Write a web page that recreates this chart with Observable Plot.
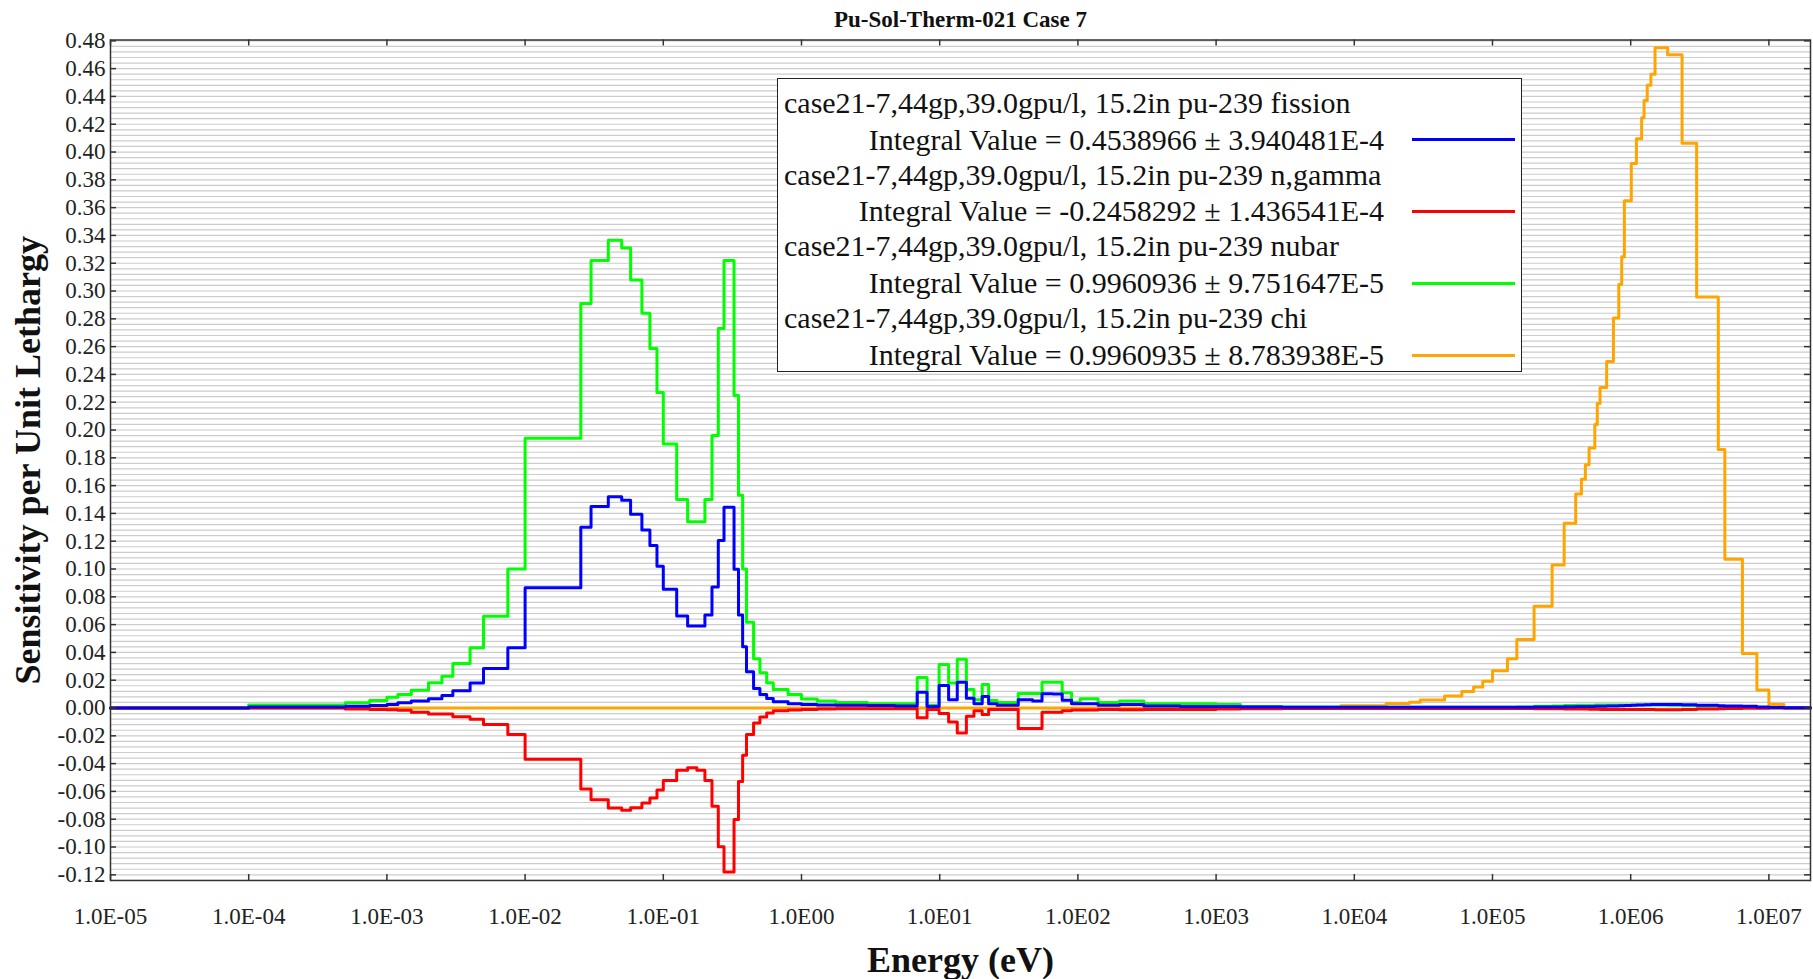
<!DOCTYPE html>
<html>
<head>
<meta charset="utf-8">
<script src="https://cdn.jsdelivr.net/npm/d3@7"></script>
<script src="https://cdn.jsdelivr.net/npm/@observablehq/plot@0.6"></script>
<style>
  html, body { margin: 0; padding: 0; background: #fff; }
  #chart { position: relative; width: 1813px; height: 979px; font-family: "Liberation Serif", "Times New Roman", serif; }
  #chart svg { position: absolute; left: 0; top: 0; }
  .legend-box { position: absolute; left: 777px; top: 78px; width: 745px; height: 294px; border: 1.5px solid #222; background: #fff; box-sizing: border-box; }
  .legend-row { position: absolute; font-size: 30px; line-height: 36px; white-space: nowrap; color: #111; }
  .legend-swatch { position: absolute; height: 3px; }
</style>
</head>
<body>
<div id="chart"></div>
<script>
// Group boundaries (eV), ascending; each series holds one value per group.
const energyEdges = [
  1e-5, 1e-4, 5e-4, 7.5e-4, 1e-3, 1.2e-3, 1.5e-3, 2e-3, 2.5e-3, 3e-3,
  4e-3, 5e-3, 7.5e-3, 0.01, 0.0253, 0.03, 0.04, 0.05, 0.058, 0.07,
  0.08, 0.09, 0.1, 0.125, 0.15, 0.175, 0.2, 0.225, 0.25, 0.275,
  0.325, 0.35, 0.375, 0.4, 0.45, 0.5, 0.56, 0.625, 0.8, 1.0,
  1.3, 1.77, 3.0, 4.75, 6.0, 6.875, 8.1, 9.9, 11.6, 13.4,
  15.6, 17.7, 20.3, 22.6, 26, 30, 37, 47, 55, 66,
  77, 90, 104, 140, 200, 300, 550, 1000, 1500, 3000,
  8000, 1.7e4, 2.5e4, 3e4, 4.5e4, 6e4, 7.3e4, 8.5e4, 1e5, 1.283e5,
  1.5e5, 2e5, 2.7e5, 3.3e5, 4e5, 4.4e5, 4.7e5, 5e5, 5.5e5, 5.73e5,
  6e5, 6.7e5, 7.5e5, 8.2e5, 8.61e5, 9e5, 1.01e6, 1.1e6, 1.2e6, 1.25e6,
  1.317e6, 1.4e6, 1.5e6, 1.85e6, 2.354e6, 3e6, 4.304e6, 4.8e6, 6.434e6, 8.187e6,
  1e7, 1.284e7, 2e7
];

// pu-239 fission sensitivity per unit lethargy
const fissionValues = [
  0, 0.0007, 0.0012, 0.0018, 0.0025, 0.0037, 0.005, 0.0066, 0.009, 0.0125,
  0.018, 0.0285, 0.0434, 0.0865, 0.130, 0.145, 0.152, 0.1495, 0.1394, 0.128,
  0.117, 0.102, 0.0854, 0.0662, 0.059, 0.059, 0.067, 0.087, 0.1206, 0.1445,
  0.0999, 0.067, 0.0441, 0.026, 0.014, 0.0097, 0.0069, 0.0045, 0.0031, 0.0025,
  0.0022, 0.002, 0.0018, 0.0015, 0.0015, 0.0114, 0.001, 0.0162, 0.006, 0.0186,
  0.007, 0.003, 0.0083, 0.003, 0.002, 0.002, 0.006, 0.005, 0.0102, 0.010,
  0.0055, 0.003, 0.003, 0.002, 0.0025, 0.0015, 0.001, 0.001, 0.0008, 0.0006,
  0.0005, 0.0005, 0.0005, 0.0005, 0.0005, 0.0005, 0.0005, 0.0005, 0.0005, 0.0005,
  0.0006, 0.0007, 0.0008, 0.0009, 0.001, 0.001, 0.001, 0.001, 0.0012, 0.0012,
  0.0013, 0.0014, 0.0015, 0.0016, 0.0017, 0.0018, 0.002, 0.0021, 0.0022, 0.0023,
  0.0024, 0.0025, 0.0026, 0.0026, 0.0024, 0.002, 0.0017, 0.0015, 0.0012, 0.0008,
  0.0004, 0.0002
];

// pu-239 n,gamma sensitivity per unit lethargy
const captureValues = [
  0, 0, -0.0008, -0.001, -0.0012, -0.0017, -0.003, -0.0043, -0.0043, -0.0062,
  -0.0081, -0.0119, -0.019, -0.0369, -0.0583, -0.066, -0.072, -0.0736, -0.0717, -0.0683,
  -0.0648, -0.059, -0.0521, -0.0448, -0.0429, -0.0448, -0.0521, -0.0707, -0.0998, -0.118,
  -0.0802, -0.0529, -0.034, -0.019, -0.0107, -0.0064, -0.0036, -0.002, -0.0015, -0.001,
  -0.0008, -0.0006, -0.0005, -0.0005, -0.0005, -0.007, -0.001, -0.004, -0.010, -0.018,
  -0.006, -0.002, -0.0047, -0.001, -0.001, -0.001, -0.0147, -0.0147, -0.003, -0.003,
  -0.002, -0.0015, -0.0015, -0.001, -0.0012, -0.001, -0.001, -0.0008, -0.0005, -0.0004,
  -0.0003, -0.0003, -0.0003, -0.0003, -0.0003, -0.0003, -0.0003, -0.0003, -0.0003, -0.0003,
  -0.0004, -0.0005, -0.0006, -0.0007, -0.0008, -0.0008, -0.0008, -0.0009, -0.0009, -0.0009,
  -0.001, -0.001, -0.001, -0.001, -0.001, -0.001, -0.001, -0.001, -0.001, -0.001,
  -0.001, -0.001, -0.0012, -0.0012, -0.001, -0.0008, -0.0006, -0.0004, -0.0002, -0.0001,
  0, 0
];

// pu-239 nubar sensitivity per unit lethargy
const nubarValues = [
  0, 0.0022, 0.0037, 0.0054, 0.0078, 0.0097, 0.0128, 0.0181, 0.0229, 0.032,
  0.0433, 0.066, 0.100, 0.194, 0.291, 0.322, 0.3366, 0.331, 0.308, 0.284,
  0.2586, 0.227, 0.190, 0.150, 0.134, 0.134, 0.150, 0.196, 0.273, 0.322,
  0.2248, 0.153, 0.100, 0.0617, 0.0354, 0.0253, 0.0181, 0.0133, 0.0097, 0.0065,
  0.005, 0.004, 0.003, 0.003, 0.003, 0.022, 0.002, 0.0313, 0.018, 0.035,
  0.0133, 0.006, 0.0169, 0.0054, 0.004, 0.004, 0.0104, 0.0104, 0.0186, 0.0186,
  0.011, 0.004, 0.0066, 0.004, 0.005, 0.003, 0.003, 0.0025, 0.001, 0.0008,
  0.0006, 0.0006, 0.0006, 0.0006, 0.0006, 0.0006, 0.0006, 0.0006, 0.0006, 0.0006,
  0.0008, 0.0012, 0.0015, 0.0018, 0.002, 0.002, 0.002, 0.002, 0.0021, 0.0021,
  0.0022, 0.0022, 0.0022, 0.0022, 0.0022, 0.0022, 0.0022, 0.0022, 0.0022, 0.0022,
  0.0022, 0.0022, 0.0022, 0.002, 0.0018, 0.0015, 0.001, 0.0008, 0.0005, 0.0002,
  0.0001, 0
];

// pu-239 chi sensitivity per unit lethargy
const chiValues = [
  0, 0, 0, 0, 0, 0, 0, 0, 0, 0,
  0, 0, 0, 0, 0, 0, 0, 0, 0, 0,
  0, 0, 0, 0, 0, 0, 0, 0, 0, 0,
  0, 0, 0, 0, 0, 0, 0, 0, 0, 0,
  0, 0, 0, 0, 0, 0, 0, 0, 0, 0,
  0, 0, 0, 0, 0, 0, 0, 0, 0, 0,
  0, 0, 0, 0, 0, 0, 0, 0, 0, 0,
  0.0016, 0.0032, 0.0042, 0.0058, 0.0087, 0.0119, 0.0152, 0.0193, 0.0268, 0.0355,
  0.0493, 0.0732, 0.1029, 0.1329, 0.154, 0.1645, 0.175, 0.187, 0.204, 0.219,
  0.2306, 0.2493, 0.2806, 0.3047, 0.3247, 0.365, 0.3918, 0.4095, 0.4247, 0.437,
  0.448, 0.456, 0.475, 0.470, 0.4063, 0.2957, 0.186, 0.107, 0.0393, 0.0129,
  0.0026, 0
];

const seriesColors = ["#0000ff", "#ff0000", "#00ff00", "#ffa500"];
const legendNames = [
  "case21-7,44gp,39.0gpu/l, 15.2in pu-239 fission",
  "case21-7,44gp,39.0gpu/l, 15.2in pu-239 n,gamma",
  "case21-7,44gp,39.0gpu/l, 15.2in pu-239 nubar",
  "case21-7,44gp,39.0gpu/l, 15.2in pu-239 chi"
];
const integralValues = ["0.4538966", "-0.2458292", "0.9960936", "0.9960935"];
const integralErrors = ["3.940481E-4", "1.436541E-4", "9.751647E-5", "8.783938E-5"];

const xTicks = [1e-5, 1e-4, 1e-3, 1e-2, 1e-1, 1e0, 1e1, 1e2, 1e3, 1e4, 1e5, 1e6, 1e7];
const xTickLabels = ["1.0E-05", "1.0E-04", "1.0E-03", "1.0E-02", "1.0E-01", "1.0E00",
  "1.0E01", "1.0E02", "1.0E03", "1.0E04", "1.0E05", "1.0E06", "1.0E07"];
const yTicks = [-0.12, -0.10, -0.08, -0.06, -0.04, -0.02, 0, 0.02, 0.04, 0.06, 0.08, 0.10,
  0.12, 0.14, 0.16, 0.18, 0.20, 0.22, 0.24, 0.26, 0.28, 0.30, 0.32, 0.34, 0.36, 0.38,
  0.40, 0.42, 0.44, 0.46, 0.48];

const titleText = "Pu-Sol-Therm-021 Case 7";
const xLabel = "Energy (eV)";
const yLabel = "Sensitivity per Unit Lethargy";

// Turn per-group values into the corner points of a histogram outline.
function stepPoints(values) {
  const pts = values.map((s, i) => ({E: energyEdges[i], s}));
  pts.push({E: energyEdges[values.length], s: values[values.length - 1]});
  return pts;
}

const W = 1813, H = 979, mL = 110, mR = 3, mT = 39.5, mB = 99;
const plotW = W - mL - mR, plotH = H - mT - mB;
const yDomain = [-0.1241, 0.4806];
// light minor grid every 0.004
const gridValues = d3.range(-124, 481, 4).map(v => v / 1000);

const axisInk = "#333";
const chart = Plot.plot({
  width: W, height: H,
  marginLeft: mL, marginRight: mR, marginTop: mT, marginBottom: mB,
  style: {fontFamily: "'Liberation Serif', 'Times New Roman', serif", fontSize: "23px", color: "#222", background: "transparent", overflow: "visible"},
  x: {type: "log", domain: [1e-5, 2e7]},
  y: {domain: yDomain},
  marks: [
    Plot.ruleY(gridValues, {stroke: "#cccccc", strokeWidth: 1.2}),
    Plot.line(stepPoints(chiValues), {x: "E", y: "s", stroke: seriesColors[3], strokeWidth: 3, curve: "step-after"}),
    Plot.line(stepPoints(nubarValues), {x: "E", y: "s", stroke: seriesColors[2], strokeWidth: 3, curve: "step-after"}),
    Plot.line(stepPoints(captureValues), {x: "E", y: "s", stroke: seriesColors[1], strokeWidth: 3, curve: "step-after"}),
    Plot.line(stepPoints(fissionValues), {x: "E", y: "s", stroke: seriesColors[0], strokeWidth: 3, curve: "step-after"}),
    Plot.frame({stroke: axisInk, strokeWidth: 1.5}),
    Plot.tickX(xTicks, {insetTop: plotH - 6, stroke: axisInk, strokeWidth: 1.5}),
    Plot.tickX(xTicks, {insetBottom: plotH - 6, stroke: axisInk, strokeWidth: 1.5}),
    Plot.tickY(yTicks, {insetRight: plotW - 6, stroke: axisInk, strokeWidth: 1.5}),
    Plot.tickY(yTicks, {insetLeft: plotW - 6, stroke: axisInk, strokeWidth: 1.5}),
    Plot.axisX(xTicks, {tickSize: 0, tickPadding: 27, tickFormat: d => xTickLabels[xTicks.indexOf(d)], label: null, fontSize: 23}),
    Plot.axisY(yTicks, {tickSize: 0, tickPadding: 5, tickFormat: d => d.toFixed(2), label: null, fontSize: 23}),
    Plot.text([titleText], {text: d => d, frameAnchor: "top", lineAnchor: "middle", textAnchor: "middle", dy: -20, fontSize: 23, fontWeight: "bold", fill: "#111"}),
    Plot.text([xLabel], {text: d => d, frameAnchor: "bottom", lineAnchor: "middle", textAnchor: "middle", dy: 80, fontSize: 36, fontWeight: "bold", fill: "#111"}),
    Plot.text([yLabel], {text: d => d, frameAnchor: "left", lineAnchor: "middle", textAnchor: "middle", dx: -82, rotate: -90, fontSize: 36, fontWeight: "bold", fill: "#111"})
  ]
});

const root = document.getElementById("chart");
root.appendChild(chart);

// Legend box: two text rows per series, with a colour sample beside the integral row.
const box = document.createElement("div");
box.className = "legend-box";
root.appendChild(box);
legendNames.forEach((name, i) => {
  const nameCenter = 102.8 + 71.8 * i;
  const valueCenter = nameCenter + 36.8;
  const nameRow = document.createElement("div");
  nameRow.className = "legend-row";
  nameRow.style.left = "784px";
  nameRow.style.top = (nameCenter - 18) + "px";
  nameRow.textContent = name;
  root.appendChild(nameRow);

  const valueRow = document.createElement("div");
  valueRow.className = "legend-row";
  valueRow.style.right = (W - 1384) + "px";
  valueRow.style.textAlign = "right";
  valueRow.style.top = (valueCenter - 18) + "px";
  valueRow.textContent = `Integral Value = ${integralValues[i]} \u00b1 ${integralErrors[i]}`;
  root.appendChild(valueRow);

  const swatch = document.createElement("div");
  swatch.className = "legend-swatch";
  swatch.style.left = "1412px";
  swatch.style.width = "103px";
  swatch.style.top = (valueCenter - 1.5) + "px";
  swatch.style.background = seriesColors[i];
  root.appendChild(swatch);
});
</script>
</body>
</html>
